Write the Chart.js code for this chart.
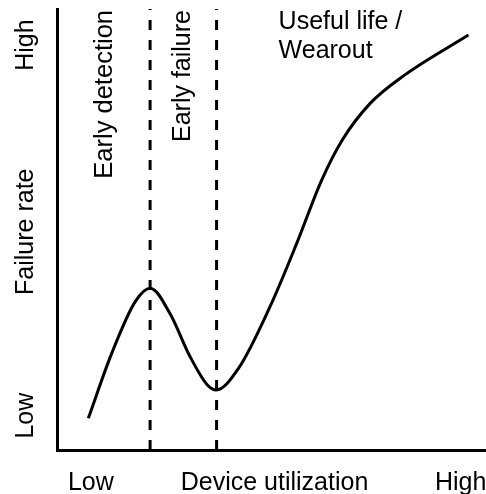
<!DOCTYPE html>
<html>
<head>
    <meta charset="UTF-8">
    <title>Failure rate vs device utilization</title>
    <style>
      body { margin: 0; background: #fff; }
      canvas { display: block; }
    </style>
</head>
<body>
    <canvas id="myChart" width="486" height="494"></canvas>

    <script type="text/javascript" src="https://cdn.jsdelivr.net/npm/chart.js"></script>
    <script>

// ---------------- data (both axes run 0..100) ----------------
const curveX = [7.3, 12.75, 18.2, 21.7, 26.3, 31.0, 35.0, 37.1, 42.3, 49.65, 55.9, 61.7, 66.5, 73.0, 81.0, 95.9];
const curveY = [7.2, 21.9, 33.6, 36.7, 31.0, 21.2, 14.8, 13.6, 18.5, 32.5, 46.9, 61.2, 70.3, 78.6, 85.0, 94.1];

// phase boundaries (dashed lines)
const phaseBounds = [21.7, 37.2];
const phaseLabels = ['Early detection', 'Early failure', ['Useful life /', 'Wearout']];

// tick labels
const xTickValues = [7.9, 50.7, 94.1];
const xTickLabels = ['Low', 'Device utilization', 'High'];
const yTickValues = [7.8, 49.5, 91.8];
const yTickLabels = ['Low', 'Failure rate', 'High'];

const FONT = '25px "Liberation Sans", Arial, Helvetica, sans-serif';

// ---------------- datasets ----------------
const curveData = curveX.map(function(x, i) { return { x: x, y: curveY[i] }; });

const datasets = [{
  data: curveData,
  borderColor: '#000',
  borderWidth: 3,
  pointRadius: 0,
  cubicInterpolationMode: 'monotone',
  fill: false
}];

phaseBounds.forEach(function(b) {
  datasets.push({
    data: [{ x: b, y: 0 }, { x: b, y: 100 }],
    borderColor: '#000',
    borderWidth: 3,
    borderDash: [10, 10],
    pointRadius: 0,
    fill: false
  });
});

// draws tick labels and phase names as canvas text
const labelPlugin = {
  id: 'labels',
  afterDraw(chart) {
    const ctx = chart.ctx;
    const xs = chart.scales.x;
    const ys = chart.scales.y;
    ctx.save();
    ctx.fillStyle = '#000';
    ctx.font = FONT;
    ctx.textBaseline = 'alphabetic';

    // x axis labels
    ctx.textAlign = 'center';
    xTickValues.forEach(function(v, i) {
      ctx.fillText(xTickLabels[i], xs.getPixelForValue(v), 490);
    });

    // y axis labels (rotated)
    yTickValues.forEach(function(v, i) {
      ctx.save();
      ctx.translate(33, ys.getPixelForValue(v));
      ctx.rotate(-Math.PI / 2);
      ctx.textAlign = 'center';
      ctx.fillText(yTickLabels[i], 0, 0);
      ctx.restore();
    });

    // phase names
    const top = chart.chartArea.top;
    const b1 = xs.getPixelForValue(phaseBounds[0]);
    const b2 = xs.getPixelForValue(phaseBounds[1]);

    ctx.save();
    ctx.font = '25.5px "Liberation Sans", Arial, Helvetica, sans-serif';
    ctx.translate(b1 - 38, top + 1);
    ctx.rotate(-Math.PI / 2);
    ctx.textAlign = 'right';
    ctx.fillText(phaseLabels[0], 0, 0);
    ctx.restore();

    ctx.save();
    ctx.translate(b2 - 27, top + 1);
    ctx.rotate(-Math.PI / 2);
    ctx.textAlign = 'right';
    ctx.fillText(phaseLabels[1], 0, 0);
    ctx.restore();

    ctx.textAlign = 'left';
    phaseLabels[2].forEach(function(line, i) {
      ctx.fillText(line, b2 + 62, top + 20 + i * 29);
    });

    ctx.restore();
  }
};

// config
const config = {
  type: 'line',
  data: { datasets: datasets },
  options: {
    responsive: false,
    animation: false,
    events: [],
    layout: { padding: { left: 57, right: 0, top: 9, bottom: 44 } },
    plugins: {
      legend: { display: false },
      tooltip: { enabled: false }
    },
    scales: {
      x: {
        type: 'linear',
        min: 0,
        max: 100,
        ticks: { display: false },
        grid: { display: false, drawTicks: false },
        border: { display: true, color: '#000', width: 3 }
      },
      y: {
        min: 0,
        max: 100,
        ticks: { display: false },
        grid: { display: false, drawTicks: false },
        border: { display: true, color: '#000', width: 3 }
      }
    }
  },
  plugins: [labelPlugin]
};

// render init block
const myChart = new Chart(
  document.getElementById('myChart'),
  config
);

</script>
</body>
</html>
